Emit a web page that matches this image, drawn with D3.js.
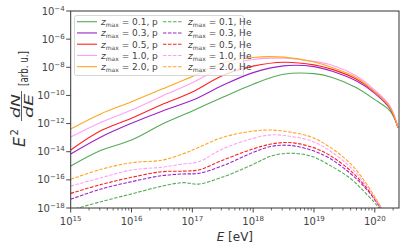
<!DOCTYPE html>
<html>
<head>
<meta charset="utf-8">
<script src="https://cdn.jsdelivr.net/npm/d3@7"></script>
<style>
  body { margin: 0; background: #fff; }
  svg { font-family: "DejaVu Sans", sans-serif; }
</style>
</head>
<body>
<div id="chart"></div>
<script>
// log10(E/eV) grids
const logE_p = [15, 15.5, 16, 16.5, 17, 17.5, 18, 18.5, 19, 19.3, 19.7, 20.0, 20.25, 20.38];
const logE_he = [15, 15.5, 16, 16.5, 16.85, 17.1, 17.5, 18, 18.3, 18.6, 18.95, 19.25, 19.6, 19.85, 20.03, 20.15];

const zmax = ["0.1", "0.3", "0.5", "1.0", "2.0"];
const colors = ["#55aa55", "#9b22cc", "#ff2020", "#ffa0f8", "#ffa520"];

// log10(E^2 dN/dE), protons
const p_z01 = [-15.02, -13.9, -13.17, -12.05, -11.1, -10.13, -9.2, -8.5, -8.45, -8.72, -9.45, -10.3, -11.1, -12.27];
const p_z03 = [-14.16, -12.95, -11.98, -11.12, -10.35, -9.28, -8.38, -7.9, -7.95, -8.28, -8.98, -9.85, -10.95, -12.27];
const p_z05 = [-13.88, -12.5, -11.63, -10.65, -9.75, -8.58, -7.92, -7.64, -7.83, -8.15, -8.85, -9.75, -10.85, -12.27];
const p_z10 = [-12.96, -11.9, -11.04, -10.05, -9.1, -8.0, -7.45, -7.36, -7.58, -7.85, -8.62, -9.62, -10.75, -12.27];
const p_z20 = [-12.39, -11.3, -10.45, -9.55, -8.65, -7.68, -7.3, -7.28, -7.62, -8.02, -8.75, -9.75, -10.85, -12.27];

// helium
const he_z01 = [-18.15, -17.55, -17.0, -16.45, -16.2, -16.3, -15.8, -14.9, -14.3, -14.11, -14.31, -14.94, -15.9, -16.95, -17.79, -18.5];
const he_z03 = [-17.38, -16.65, -16.13, -15.7, -15.58, -15.54, -15.0, -14.05, -13.62, -13.55, -13.88, -14.45, -15.55, -16.6, -17.6, -18.4];
const he_z05 = [-16.96, -16.33, -15.82, -15.42, -15.38, -15.3, -14.6, -13.8, -13.45, -13.35, -13.65, -14.23, -15.35, -16.5, -17.55, -18.35];
const he_z10 = [-16.44, -15.85, -15.3, -15.1, -14.87, -14.72, -13.8, -13.05, -12.8, -12.9, -13.22, -13.9, -15.1, -16.35, -17.5, -18.35];
const he_z20 = [-15.96, -15.25, -14.78, -14.6, -14.15, -13.7, -12.98, -12.53, -12.46, -12.6, -12.95, -13.64, -14.85, -16.2, -17.43, -18.3];

const pSeries = [p_z01, p_z03, p_z05, p_z10, p_z20];
const heSeries = [he_z01, he_z03, he_z05, he_z10, he_z20];

const xTicks = [15, 16, 17, 18, 19, 20];
const yTicks = [-18, -16, -14, -12, -10, -8, -6, -4];

const width = 411, height = 248;
const margin = { top: 11, right: 12, bottom: 40, left: 70.7 };

const svg = d3.select("#chart").append("svg")
    .attr("width", width)
    .attr("height", height);

const x = d3.scaleLog().domain([1e15, 2.5e20]).range([margin.left, width - margin.right]);
const y = d3.scaleLog().domain([1e-18, 1e-4]).range([height - margin.bottom, margin.top]);

svg.append("clipPath").attr("id", "clip")
  .append("rect")
    .attr("x", margin.left).attr("y", margin.top)
    .attr("width", width - margin.right - margin.left)
    .attr("height", height - margin.bottom - margin.top);

const line = d3.line()
    .x(d => x(Math.pow(10, d[0])))
    .y(d => y(Math.pow(10, d[1])))
    .curve(d3.curveCatmullRom.alpha(0.5));

const plot = svg.append("g").attr("clip-path", "url(#clip)");

// helium (dashed)
heSeries.forEach((s, i) => {
  plot.append("path")
      .attr("d", line(logE_he.map((e, j) => [e, s[j]])))
      .attr("fill", "none")
      .attr("stroke", colors[i])
      .attr("stroke-width", 1.1)
      .attr("stroke-dasharray", "3.5,1.5");
});

// protons (solid)
pSeries.forEach((s, i) => {
  plot.append("path")
      .attr("d", line(logE_p.map((e, j) => [e, s[j]])))
      .attr("fill", "none")
      .attr("stroke", colors[i])
      .attr("stroke-width", 1.1);
});

// frame
const axisColor = "#333";
svg.append("rect")
    .attr("x", margin.left).attr("y", margin.top)
    .attr("width", width - margin.right - margin.left)
    .attr("height", height - margin.bottom - margin.top)
    .attr("fill", "none")
    .attr("stroke", axisColor)
    .attr("stroke-width", 1);

// x axis with log minor ticks
const minor = [];
for (let d = 15; d <= 20; d++) {
  for (let k = 2; k <= 9; k++) {
    const v = k * Math.pow(10, d);
    if (v <= 2.5e20) minor.push(v);
  }
}
const xAxis = svg.append("g")
    .attr("transform", `translate(0,${height - margin.bottom})`);
xAxis.selectAll("line.minor").data(minor).join("line")
    .attr("x1", d => x(d)).attr("x2", d => x(d))
    .attr("y1", 0).attr("y2", 2.5)
    .attr("stroke", axisColor).attr("stroke-width", 0.7);
xAxis.selectAll("line.major").data(xTicks).join("line")
    .attr("x1", d => x(Math.pow(10, d))).attr("x2", d => x(Math.pow(10, d)))
    .attr("y1", 0).attr("y2", 4.5)
    .attr("stroke", axisColor).attr("stroke-width", 0.9);
const xl = xAxis.selectAll("text").data(xTicks).join("text")
    .attr("x", d => x(Math.pow(10, d)))
    .attr("y", 16.5)
    .attr("text-anchor", "middle")
    .attr("fill", "#444")
    .attr("font-size", 10);
xl.append("tspan").text("10");
xl.append("tspan").attr("dy", -4).attr("font-size", 7).text(d => d);

// y axis
const yAxis = svg.append("g");
yAxis.selectAll("line").data(yTicks).join("line")
    .attr("x1", margin.left - 4.5).attr("x2", margin.left)
    .attr("y1", d => y(Math.pow(10, d))).attr("y2", d => y(Math.pow(10, d)))
    .attr("stroke", axisColor).attr("stroke-width", 0.9);
const yl = yAxis.selectAll("text").data(yTicks).join("text")
    .attr("x", margin.left - 6)
    .attr("y", d => y(Math.pow(10, d)) + 3.5)
    .attr("text-anchor", "end")
    .attr("fill", "#444")
    .attr("font-size", 10);
yl.append("tspan").text("10");
yl.append("tspan").attr("dy", -4).attr("font-size", 7).text(d => "\u2212" + Math.abs(d));

// x label
const xLab = svg.append("text")
    .attr("x", (margin.left + width - margin.right) / 2)
    .attr("y", 241)
    .attr("text-anchor", "middle")
    .attr("fill", "#333")
    .attr("font-size", 12);
xLab.append("tspan").attr("font-style", "italic").text("E");
xLab.append("tspan").text(" [eV]");

// y label: E^2 dN/dE [arb. u.]
const yLab = svg.append("g")
    .attr("transform", "translate(22,100) rotate(-90)")
    .attr("fill", "#333");
yLab.append("text").attr("x", -47).attr("y", 3).attr("font-size", 16)
    .attr("font-style", "italic").text("E");
yLab.append("text").attr("x", -35.5).attr("y", -4).attr("font-size", 10).text("2");
yLab.append("text").attr("x", -6).attr("y", -2).attr("font-size", 13)
    .attr("text-anchor", "middle").attr("font-style", "italic")
    .attr("textLength", 24).attr("lengthAdjust", "spacingAndGlyphs").text("dN");
yLab.append("line").attr("x1", -21).attr("x2", 9).attr("y1", -0.5).attr("y2", -0.5)
    .attr("stroke", "#333").attr("stroke-width", 0.8);
yLab.append("text").attr("x", -6).attr("y", 11).attr("font-size", 13)
    .attr("text-anchor", "middle").attr("font-style", "italic")
    .attr("textLength", 24).attr("lengthAdjust", "spacingAndGlyphs").text("dE");
yLab.append("text").attr("x", 14).attr("y", 6).attr("font-size", 12)
    .attr("textLength", 35).attr("lengthAdjust", "spacingAndGlyphs").text("[arb. u.]");

// legend
const legend = svg.append("g");
legend.append("rect")
    .attr("x", 74.5).attr("y", 15.5)
    .attr("width", 169).attr("height", 60)
    .attr("rx", 2)
    .attr("fill", "#fff").attr("fill-opacity", 0.8)
    .attr("stroke", "#ccc").attr("stroke-width", 0.8);

const cols = [
  { lx: 77, tx: 101, label: "p", dash: null },
  { lx: 163, tx: 188, label: "He", dash: "3.5,1.5" }
];
cols.forEach(c => {
  zmax.forEach((z, i) => {
    const ry = 21.7 + i * 11.25;
    legend.append("line")
        .attr("x1", c.lx).attr("x2", c.lx + 20)
        .attr("y1", ry).attr("y2", ry)
        .attr("stroke", colors[i]).attr("stroke-width", 1.1)
        .attr("stroke-dasharray", c.dash);
    const t = legend.append("text")
        .attr("x", c.tx).attr("y", ry + 3.3)
        .attr("fill", "#444")
        .attr("font-size", 9);
    t.append("tspan").attr("font-style", "italic").text("z");
    t.append("tspan").attr("font-size", 6).attr("dy", 2).text("max");
    t.append("tspan").attr("dy", -2).text(` = ${z}, ${c.label}`);
  });
});
</script>
</body>
</html>
